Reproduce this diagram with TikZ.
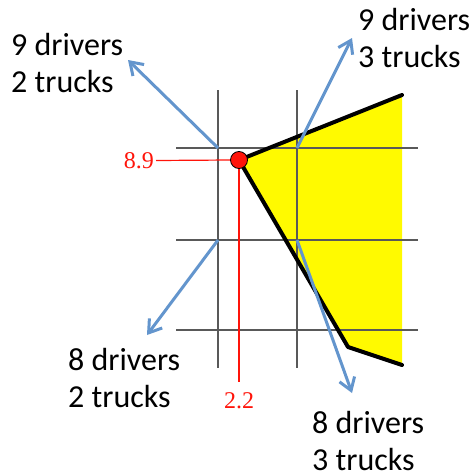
\documentclass[tikz,border=0pt]{standalone}
\usepackage{fontspec}
\setmainfont{Carlito}
\newfontfamily\valfont{Liberation Serif}
\usetikzlibrary{arrows.meta}
\definecolor{arrowblue}{RGB}{99,149,205}
\definecolor{gridgray}{RGB}{89,89,89}
\definecolor{regionyellow}{RGB}{255,250,0}
\definecolor{valred}{RGB}{255,20,10}
\begin{document}
\begin{tikzpicture}[x=1pt,y=-1pt,
  gridline/.style={draw=gridgray,line width=1.5pt},
  bound/.style={draw=black,line width=4pt,line join=round,line cap=round},
  redline/.style={draw=valred,line width=1.2pt},
  bluearrow/.style={draw=arrowblue,line width=3pt,-{Straight Barb[length=12pt,width=16pt]}},
  lbl/.style={font=\fontsize{32}{37}\selectfont,align=left,anchor=north west,inner sep=0pt},
  vallbl/.style={text=valred,font=\valfont\fontsize{24}{24}\selectfont,inner sep=0pt},
  dot/.style={circle,fill=valred,draw=black,line width=0.8pt,minimum size=17pt,inner sep=0pt}]
\useasboundingbox (0,0) rectangle (476,474);

% feasible region
\fill[regionyellow] (239,160) -- (402,95) -- (402,365) -- (348,347) -- cycle;

% grid
\draw[gridline] (218,90) -- (218,368);
\draw[gridline] (297,90) -- (297,368);
\draw[gridline] (176,148) -- (418,148);
\draw[gridline] (176,240) -- (418,240);
\draw[gridline] (176,330) -- (418,330);

% boundary
\draw[bound] (402,95) -- (239,160) -- (348,347) -- (402,365);

% labels and red guides
\node[dot] (opt) at (239,160) {};
\node[vallbl,anchor=east] (yval) at (154,160.5) {8.9};
\node[vallbl,anchor=north] (xval) at (239,392) {2.2};
\draw[redline] (yval.east) ++(2,0) -- (opt.west);
\draw[redline] (opt.south) -- (239,382);

% grid points and arrow tips
\coordinate (p92) at (218,148);
\coordinate (p93) at (297,148);
\coordinate (p82) at (218,240);
\coordinate (p83) at (297,240);
\coordinate (t92) at (128,60);
\coordinate (t93) at (352,38);
\coordinate (t82) at (147,335);
\coordinate (t83) at (352,393);

\draw[bluearrow] (p92) -- (t92);
\draw[bluearrow] (p93) -- (t93);
\draw[bluearrow] (p82) -- (t82);
\draw[bluearrow] (p83) -- (t83);

% text labels
\node[lbl] (l92) at (11,33) {9 drivers\\2 trucks};
\node[lbl] (l93) at (358,8) {9 drivers\\3 trucks};
\node[lbl] (l82) at (68,348) {8 drivers\\2 trucks};
\node[lbl] (l83) at (312,411) {8 drivers\\3 trucks};
\end{tikzpicture}
\end{document}
